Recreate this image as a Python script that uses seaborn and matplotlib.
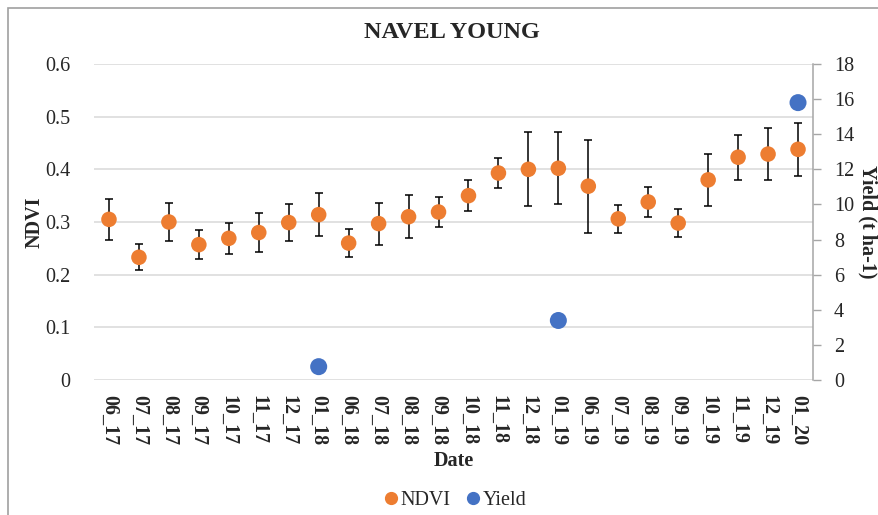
import numpy as np
import pandas as pd
import matplotlib
matplotlib.use("Agg")
import matplotlib.pyplot as plt
from matplotlib.lines import Line2D
from matplotlib.patches import Rectangle
import seaborn as sns

dates = ["06_17", "07_17", "08_17", "09_17", "10_17", "11_17", "12_17", "01_18",
         "06_18", "07_18", "08_18", "09_18", "10_18", "11_18", "12_18", "01_19",
         "06_19", "07_19", "08_19", "09_19", "10_19", "11_19", "12_19", "01_20"]
ndvi = [0.305, 0.233, 0.300, 0.257, 0.269, 0.280, 0.299, 0.314,
        0.260, 0.297, 0.310, 0.319, 0.350, 0.393, 0.400, 0.402,
        0.368, 0.306, 0.338, 0.298, 0.380, 0.423, 0.429, 0.438]
ndvi_err = [0.039, 0.025, 0.036, 0.028, 0.030, 0.037, 0.035, 0.041,
            0.027, 0.040, 0.041, 0.029, 0.030, 0.029, 0.070, 0.068,
            0.088, 0.026, 0.028, 0.026, 0.050, 0.043, 0.050, 0.050]
yield_dates = ["01_18", "01_19", "01_20"]
yield_vals = [0.76, 3.39, 15.8]

ndvi_ticks = [0, 0.1, 0.2, 0.3, 0.4, 0.5, 0.6]
ndvi_ticklabels = ["0", "0.1", "0.2", "0.3", "0.4", "0.5", "0.6"]
yield_ticks = [0, 2, 4, 6, 8, 10, 12, 14, 16, 18]

ORANGE = "#ED7D31"
BLUE = "#4472C4"

sns.set_theme(style="white")
plt.rcParams["font.family"] = ["Liberation Serif", "DejaVu Serif"]

df = pd.DataFrame({"pos": np.arange(len(dates)), "date": dates,
                   "ndvi": ndvi, "err": ndvi_err})
ydf = pd.DataFrame({"pos": [dates.index(d) for d in yield_dates],
                    "yield": yield_vals})

fig = plt.figure(figsize=(8.79, 5.15), dpi=100)
ax = fig.add_axes([94 / 879, 1 - 380 / 515, (813 - 94) / 879, (380 - 64) / 515])
ax2 = ax.twinx()

ax.set_ylim(0, 0.6)
ax.set_yticks(ndvi_ticks)
ax.set_yticklabels(ndvi_ticklabels, fontsize=14.5)
ax.yaxis.grid(True, color="#D9D9D9", lw=1.1)
ax.set_axisbelow(True)
ax.set_xlim(-0.5, len(dates) - 0.5)

ax.errorbar(df["pos"], df["ndvi"], yerr=df["err"], fmt="none",
            ecolor="black", elinewidth=1.1, capsize=2.6, capthick=1.1, zorder=3)
sns.scatterplot(data=df, x="pos", y="ndvi", ax=ax, color=ORANGE, s=125,
                edgecolor="none", zorder=4, legend=False)

ax2.set_ylim(0, 18)
ax2.set_yticks(yield_ticks)
ax2.set_yticklabels([str(t) for t in yield_ticks], fontsize=14.5)
sns.scatterplot(data=ydf, x="pos", y="yield", ax=ax2, color=BLUE, s=150,
                edgecolor="none", zorder=5, legend=False, clip_on=False)
ax2.set_xlim(-0.5, len(dates) - 0.5)

ax.set_xticks(np.arange(len(dates)))
ax.set_xticklabels(dates, rotation=-90, fontsize=14.5, fontweight="bold")
ax.tick_params(axis="x", length=0, pad=11)
ax.tick_params(axis="y", length=0, pad=17)
ax2.tick_params(axis="y", length=6, width=1, color="#A6A6A6", pad=9, direction="out", right=True)

for s in ["left", "top", "right", "bottom"]:
    ax.spines[s].set_visible(False)
for s in ["left", "top", "bottom"]:
    ax2.spines[s].set_visible(False)
ax2.spines["right"].set_visible(True)
ax2.spines["right"].set_color("#A6A6A6")
ax2.spines["right"].set_linewidth(1.1)

ax.set_xlabel("")
ax.set_ylabel("")
ax2.set_xlabel("")
ax2.set_ylabel("")

fig.text(452 / 879, 1 - 33 / 515, "NAVEL YOUNG", ha="center", va="center",
         fontsize=17.5, fontweight="bold")
fig.text(35 / 879, 1 - 222 / 515, "NDVI", ha="center", va="center",
         rotation=90, fontsize=14.5, fontweight="bold")
fig.text(868 / 879, 1 - 222 / 515, "Yield (t ha-1)", ha="center", va="center",
         rotation=-90, fontsize=14.5, fontweight="bold")
fig.text(453.5 / 879, 1 - 461 / 515, "Date", ha="center", va="center",
         fontsize=14.5, fontweight="bold")

handles = [Line2D([], [], marker="o", ls="none", color=ORANGE, markersize=8.5),
           Line2D([], [], marker="o", ls="none", color=BLUE, markersize=8.5)]
fig.legend(handles, ["NDVI", "Yield"], loc="center", bbox_to_anchor=(453.5 / 879, 1 - 500 / 515),
           ncol=2, frameon=False, fontsize=14.5, handletextpad=0.0,
           columnspacing=0.6, handlelength=1.0)

fig.patches.append(Rectangle((8 / 879, -0.1), 1.2, 1.1 - 8 / 515,
                             transform=fig.transFigure, fill=False,
                             edgecolor="#A0A0A0", lw=1.2))

fig.savefig("out.png", dpi=100)
